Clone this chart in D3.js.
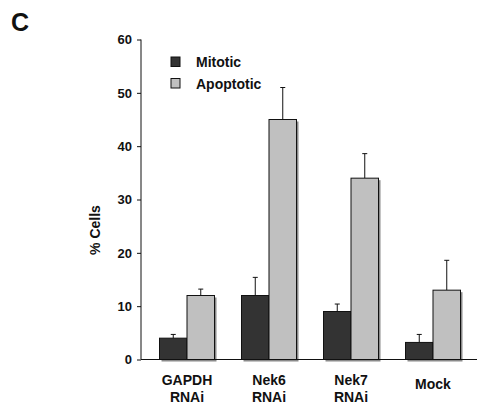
<!DOCTYPE html>
<html>
<head>
<meta charset="utf-8">
<script src="https://cdn.jsdelivr.net/npm/d3@7"></script>
<style>
  body { margin: 0; background: #fff; }
  text { font-family: "Liberation Sans", Arial, sans-serif; font-weight: bold; fill: #111; }
</style>
</head>
<body>
<div id="chart"></div>
<script>
// Data
var groups = ["GAPDH RNAi", "Nek6 RNAi", "Nek7 RNAi", "Mock"];
var series = ["Mitotic", "Apoptotic"];
var mitotic = [4, 12, 9, 3.2];
var apoptotic = [12, 45, 34, 13];
var mitoticErr = [0.7, 3.4, 1.4, 1.5];
var apoptoticErr = [1.2, 6, 4.6, 5.6];
var yTicks = [0, 10, 20, 30, 40, 50, 60];

var width = 479, height = 405;
var colors = { Mitotic: "#333333", Apoptotic: "#c0c0c0" };

var svg = d3.select("#chart").append("svg")
    .attr("width", width)
    .attr("height", height);

// Scales
var y = d3.scaleLinear().domain([0, 60]).range([359.5, 39.5]);
var x0 = d3.scaleBand().domain(groups).range([146, 474]).paddingInner(0).paddingOuter(0);
var barW = 27.5;
var x1 = d3.scaleBand().domain(series).range([0, barW * 2]);

// Panel letter
svg.append("text")
    .attr("x", 11).attr("y", 31)
    .style("font-size", "25px")
    .text("C");

// Bars
var rows = groups.map(function(g, i) {
    return [
        { group: g, key: "Mitotic", value: mitotic[i], err: mitoticErr[i] },
        { group: g, key: "Apoptotic", value: apoptotic[i], err: apoptoticErr[i] }
    ];
});
var flat = d3.merge(rows);

function barX(d) {
    return x0(d.group) + (x0.bandwidth() - barW * 2) / 2 + x1(d.key);
}

// Error bars (drawn first so bar top covers their base)
var err = svg.append("g");
err.selectAll("line.v")
    .data(flat).enter().append("line")
    .attr("x1", function(d) { return barX(d) + barW / 2; })
    .attr("x2", function(d) { return barX(d) + barW / 2; })
    .attr("y1", function(d) { return y(d.value); })
    .attr("y2", function(d) { return y(d.value + d.err); })
    .attr("stroke", "#111").attr("stroke-width", 1);
err.selectAll("line.cap")
    .data(flat).enter().append("line")
    .attr("x1", function(d) { return barX(d) + barW / 2 - 2.5; })
    .attr("x2", function(d) { return barX(d) + barW / 2 + 2.5; })
    .attr("y1", function(d) { return y(d.value + d.err); })
    .attr("y2", function(d) { return y(d.value + d.err); })
    .attr("stroke", "#111").attr("stroke-width", 1);

// Shadows
svg.append("g").selectAll("rect")
    .data(flat).enter().append("rect")
    .attr("x", function(d) { return barX(d) + 2; })
    .attr("y", function(d) { return y(d.value) + 2; })
    .attr("width", barW)
    .attr("height", function(d) { return y(0) - y(d.value); })
    .attr("fill", "#8a8a8a");

svg.append("g").selectAll("rect")
    .data(flat).enter().append("rect")
    .attr("x", barX)
    .attr("y", function(d) { return y(d.value); })
    .attr("width", barW)
    .attr("height", function(d) { return y(0) - y(d.value); })
    .attr("fill", function(d) { return colors[d.key]; })
    .attr("stroke", "#111")
    .attr("stroke-width", 1);

// Y axis
var yAxis = svg.append("g")
    .attr("transform", "translate(141,0)")
    .call(d3.axisLeft(y).tickValues(yTicks).tickSize(4).tickPadding(5));
yAxis.select(".domain").attr("d", "M0," + y(60) + "V" + y(0)).attr("stroke", "#111");
yAxis.selectAll(".tick line").attr("stroke", "#111");
yAxis.selectAll(".tick text")
    .style("font-size", "13px")
    .style("font-family", "'Liberation Sans', Arial, sans-serif")
    .style("font-weight", "bold")
    .attr("fill", "#111");

// X axis baseline
svg.append("line")
    .attr("x1", 141).attr("x2", 477)
    .attr("y1", y(0)).attr("y2", y(0))
    .attr("stroke", "#111");

// Category labels
svg.append("g").selectAll("text")
    .data(groups).enter().append("text")
    .attr("x", function(g) { return x0(g) + x0.bandwidth() / 2; })
    .attr("y", function(g) { return g.indexOf(" ") > 0 ? 384.5 : 388.5; })
    .attr("text-anchor", "middle")
    .style("font-size", "14px")
    .each(function(g) {
        var parts = g.split(" ");
        var t = d3.select(this);
        parts.forEach(function(p, i) {
            t.append("tspan")
                .attr("x", x0(g) + x0.bandwidth() / 2)
                .attr("dy", i === 0 ? 0 : 17)
                .text(p);
        });
    });

// Y axis title
svg.append("text")
    .attr("transform", "translate(100,230) rotate(-90)")
    .attr("text-anchor", "middle")
    .style("font-size", "14px")
    .text("% Cells");

// Legend
var legend = svg.append("g").selectAll("g")
    .data(series).enter().append("g")
    .attr("transform", function(d, i) { return "translate(171," + (57 + i * 21.5) + ")"; });
legend.append("rect")
    .attr("width", 9).attr("height", 9.5)
    .attr("fill", function(d) { return colors[d]; })
    .attr("stroke", "#111");
legend.append("text")
    .attr("x", 25).attr("y", 10)
    .style("font-size", "14px")
    .text(function(d) { return d; });
</script>
</body>
</html>
